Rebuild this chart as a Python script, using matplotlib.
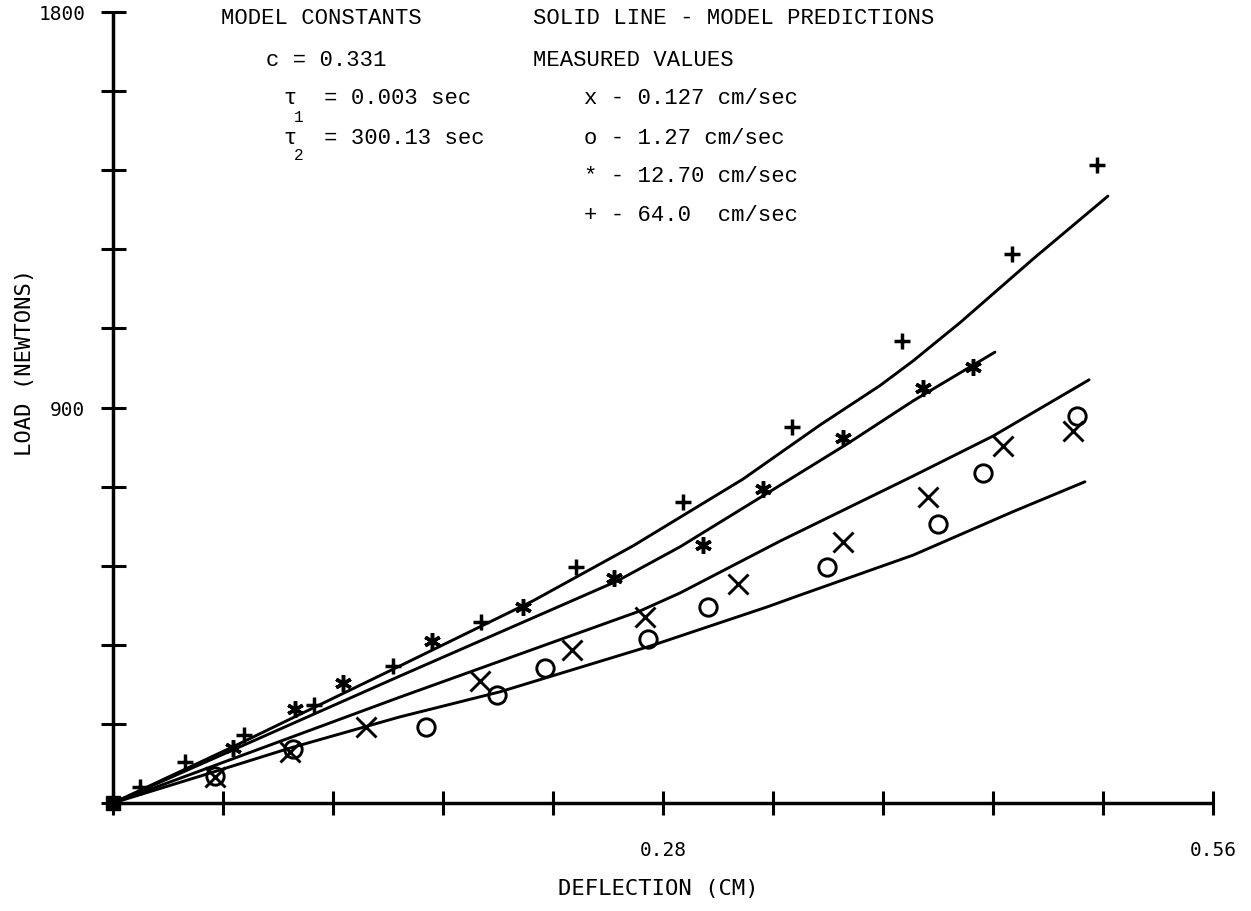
import numpy as np
import matplotlib
matplotlib.use("Agg")
import matplotlib.pyplot as plt

# ---------------- data ----------------
# model predictions (solid lines)
line_64_x = [0, 0.0611, 0.1461, 0.2138, 0.2647, 0.3207, 0.3599, 0.3905, 0.4073, 0.4312, 0.4684, 0.5065]
line_64_y = [0, 128, 312, 460, 585, 737, 860, 950, 1006, 1093, 1238, 1381]

line_127_x = [0, 0.1461, 0.2566, 0.2887, 0.3309, 0.3737, 0.4073, 0.4490]
line_127_y = [0, 289, 505, 583, 699, 817, 915, 1026]

line_0127_x = [0, 0.1461, 0.2240, 0.2683, 0.2887, 0.3396, 0.4073, 0.4480, 0.4969]
line_0127_y = [0, 241, 366, 437, 478, 596, 744, 835, 963]

line_127s_x = [0, 0.0443, 0.0901, 0.1461, 0.1970, 0.2734, 0.3329, 0.3497, 0.4073, 0.4582, 0.4948]
line_127s_y = [0, 61, 125, 196, 253, 357, 446, 473, 564, 663, 731]

# measured values
meas_x_defl = [0.0519, 0.0901, 0.1288, 0.1868, 0.2337, 0.2708, 0.3182, 0.3716, 0.4149, 0.4531, 0.4887]
meas_x_load = [59, 116, 173, 278, 348, 423, 498, 594, 696, 812, 847]

meas_o_defl = [0.0519, 0.0916, 0.1593, 0.1955, 0.2199, 0.2724, 0.3029, 0.3635, 0.4200, 0.4429, 0.4908]
meas_o_load = [61, 123, 173, 246, 307, 373, 446, 537, 635, 751, 881]

meas_star_defl = [0.0611, 0.0927, 0.1171, 0.1624, 0.2087, 0.2551, 0.3004, 0.3309, 0.3716, 0.4124, 0.4378]
meas_star_load = [125, 214, 273, 369, 446, 512, 587, 715, 831, 944, 992]

meas_plus_defl = [0.0137, 0.0367, 0.0667, 0.1023, 0.1425, 0.1873, 0.2357, 0.2902, 0.3457, 0.4017, 0.4577, 0.5009]
meas_plus_load = [36, 93, 155, 223, 312, 412, 537, 685, 856, 1051, 1249, 1452]

origin_defl = [0.0]
origin_load = [0.0]

x_ticks = [0, 0.056, 0.112, 0.168, 0.224, 0.28, 0.336, 0.392, 0.448, 0.504, 0.56]
x_tick_labels = ["", "", "", "", "", "0.28", "", "", "", "", "0.56"]
y_ticks = [0, 180, 360, 540, 720, 900, 1080, 1260, 1440, 1620, 1800]
y_tick_labels = ["", "", "", "", "", "900", "", "", "", "", "1800"]

x_label = "DEFLECTION (CM)"
y_label = "LOAD (NEWTONS)"

left_notes = ["MODEL CONSTANTS", "c = 0.331", "\u03c4  = 0.003 sec", "\u03c4  = 300.13 sec"]
left_subs = ["1", "2"]
right_notes = ["SOLID LINE - MODEL PREDICTIONS", "MEASURED VALUES",
               "x - 0.127 cm/sec", "o - 1.27 cm/sec",
               "* - 12.70 cm/sec", "+ - 64.0  cm/sec"]

# ---------------- figure ----------------
W, H = 1251, 912
fig = plt.figure(figsize=(W / 100, H / 100), dpi=100)
fig.patch.set_facecolor("white")

ax = fig.add_axes([113 / W, 1 - 804 / H, 1100 / W, 791 / H])
ax.set_xlim(0, 0.56)
ax.set_ylim(0, 1800)

lw = 2.1
for xs, ys in [(line_64_x, line_64_y), (line_127_x, line_127_y),
               (line_0127_x, line_0127_y), (line_127s_x, line_127s_y)]:
    ax.plot(xs, ys, color="black", lw=lw, solid_capstyle="round", solid_joinstyle="round")

ax.plot(meas_x_defl, meas_x_load, ls="none", marker="x", ms=14, mew=2.1, color="black")
ax.plot(meas_o_defl, meas_o_load, ls="none", marker="o", ms=12.5, mew=2.1,
        mfc="none", mec="black")
ax.plot(meas_star_defl, meas_star_load, ls="none", marker=(6, 2, 0), ms=12, mew=2.5,
        color="black")
ax.plot(meas_plus_defl, meas_plus_load, ls="none", marker="+", ms=12, mew=2.5, color="black")
ax.plot(origin_defl, origin_load, ls="none", marker="s", ms=10.5, color="black", clip_on=False,
        zorder=5)

for s in ["top", "right"]:
    ax.spines[s].set_visible(False)
for s in ["left", "bottom"]:
    ax.spines[s].set_linewidth(2.5)
    ax.spines[s].set_capstyle("butt")

ax.set_xticks(x_ticks)
ax.set_xticklabels(x_tick_labels)
ax.set_yticks(y_ticks)
ax.set_yticklabels(y_tick_labels)

tick_font = "DejaVu Sans Mono"
ax.tick_params(axis="y", direction="inout", length=18, width=2.2, pad=11, labelsize=14)
ax.tick_params(axis="x", direction="inout", length=17, width=2.2, pad=18, labelsize=14)
for lab in ax.get_xticklabels() + ax.get_yticklabels():
    lab.set_family(tick_font)

ax.set_xlabel(x_label, fontsize=16, family="DejaVu Sans Mono")
ax.xaxis.label.set_va("center")
ax.xaxis.set_label_coords((658 - 113) / 1100, (804 - 889) / 791)
ax.set_ylabel(y_label, fontsize=16, family="DejaVu Sans Mono")
ax.yaxis.label.set_va("center")
ax.yaxis.label.set_ha("center")
ax.yaxis.set_label_coords((25 - 113) / 1100, (804 - 362) / 791)

mono = ["Liberation Mono", "DejaVu Sans Mono"]
fs = 16


def ftext(px, py, s, size=fs):
    fig.text(px / W, 1 - py / H, s, ha="left", va="center", fontsize=size, family=mono)


rows = [19, 60, 99, 138, 177, 216]
ftext(221, rows[0], left_notes[0])
ftext(266, rows[1], left_notes[1])
ftext(284, rows[2], left_notes[2])
ftext(284, rows[3], left_notes[3])
ftext(294, rows[2] + 18, left_subs[0], size=11.5)
ftext(294, rows[3] + 18, left_subs[1], size=11.5)

ftext(533, rows[0], right_notes[0])
ftext(533, rows[1], right_notes[1])
for i in range(4):
    ftext(584, rows[2 + i], right_notes[2 + i])

fig.savefig("out.png", dpi=100, facecolor="white")
